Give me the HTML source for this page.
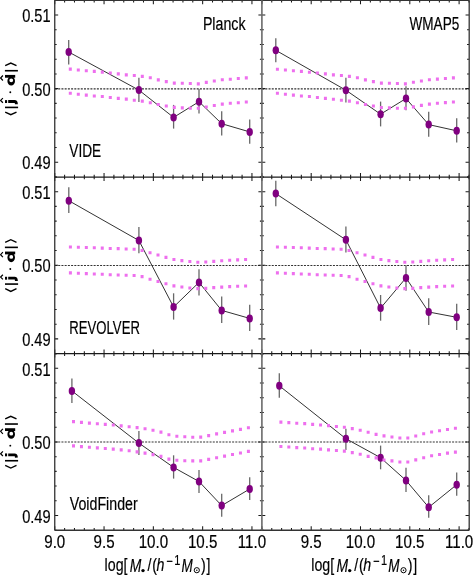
<!DOCTYPE html><html><head><meta charset="utf-8"><style>html,body{margin:0;padding:0;background:#fff;overflow:hidden;}svg{display:block;will-change:transform;}text{font-family:"Liberation Sans",sans-serif;fill:#000;stroke:#000;stroke-width:0.15px;}</style></head><body>
<svg width="473" height="575" viewBox="0 0 473 575">
<rect width="473" height="575" fill="#fff"/>
<line x1="55.0" y1="88.85" x2="261.8" y2="88.85" stroke="#333" stroke-width="1.05" stroke-dasharray="2 1.22"/>
<polyline points="68.7,52.0 138.9,90.1 173.6,117.4 199.0,101.7 221.7,123.7 249.7,131.9" fill="none" stroke="#333" stroke-width="1"/>
<line x1="68.7" y1="40" x2="68.7" y2="64.4" stroke="#686868" stroke-width="1.3"/>
<line x1="138.9" y1="77.7" x2="138.9" y2="102" stroke="#686868" stroke-width="1.3"/>
<line x1="173.6" y1="104.9" x2="173.6" y2="128.6" stroke="#686868" stroke-width="1.3"/>
<line x1="199" y1="89.1" x2="199" y2="113.5" stroke="#686868" stroke-width="1.3"/>
<line x1="221.7" y1="111.3" x2="221.7" y2="135.5" stroke="#686868" stroke-width="1.3"/>
<line x1="249.7" y1="119.5" x2="249.7" y2="143.7" stroke="#686868" stroke-width="1.3"/>
<ellipse cx="68.7" cy="52.0" rx="3.2" ry="4" fill="#800080"/>
<ellipse cx="138.9" cy="90.1" rx="3.2" ry="4" fill="#800080"/>
<ellipse cx="173.6" cy="117.39999999999999" rx="3.2" ry="4" fill="#800080"/>
<ellipse cx="199" cy="101.7" rx="3.2" ry="4" fill="#800080"/>
<ellipse cx="221.7" cy="123.7" rx="3.2" ry="4" fill="#800080"/>
<ellipse cx="249.7" cy="131.9" rx="3.2" ry="4" fill="#800080"/>
<path d="M68.80,67.61h3v3.1h-3zM76.80,68.44h3v3.1h-3zM84.80,69.14h3v3.1h-3zM92.80,69.86h3v3.1h-3zM100.80,70.62h3v3.1h-3zM108.80,71.42h3v3.1h-3zM116.80,72.31h3v3.1h-3zM124.80,73.31h3v3.1h-3zM132.80,74.02h3v3.1h-3zM140.80,74.84h3v3.1h-3zM148.80,76.22h3v3.1h-3zM156.80,78.30h3v3.1h-3zM164.80,80.11h3v3.1h-3zM172.80,81.56h3v3.1h-3zM180.80,81.76h3v3.1h-3zM188.80,81.96h3v3.1h-3zM196.80,82.33h3v3.1h-3zM204.80,80.79h3v3.1h-3zM212.80,79.48h3v3.1h-3zM220.80,78.22h3v3.1h-3zM228.80,77.63h3v3.1h-3zM236.80,76.94h3v3.1h-3zM244.80,76.35h3v3.1h-3z" fill="#ee6fee"/>
<path d="M68.80,91.65h3v3.1h-3zM76.80,92.64h3v3.1h-3zM84.80,93.54h3v3.1h-3zM92.80,94.46h3v3.1h-3zM100.80,94.93h3v3.1h-3zM108.80,95.91h3v3.1h-3zM116.80,96.81h3v3.1h-3zM124.80,97.62h3v3.1h-3zM132.80,98.70h3v3.1h-3zM140.80,99.54h3v3.1h-3zM148.80,101.21h3v3.1h-3zM156.80,102.99h3v3.1h-3zM164.80,104.41h3v3.1h-3zM172.80,105.87h3v3.1h-3zM180.80,106.37h3v3.1h-3zM188.80,106.75h3v3.1h-3zM196.80,106.73h3v3.1h-3zM204.80,105.38h3v3.1h-3zM212.80,103.89h3v3.1h-3zM220.80,102.61h3v3.1h-3zM228.80,101.73h3v3.1h-3zM236.80,101.13h3v3.1h-3zM244.80,100.45h3v3.1h-3z" fill="#ee6fee"/>
<path d="M54.75,0.30v4.0M54.75,176.95v-4.0M64.61,0.30v2.3M64.61,176.95v-2.3M74.47,0.30v2.3M74.47,176.95v-2.3M84.33,0.30v2.3M84.33,176.95v-2.3M94.19,0.30v2.3M94.19,176.95v-2.3M104.05,0.30v4.0M104.05,176.95v-4.0M113.91,0.30v2.3M113.91,176.95v-2.3M123.77,0.30v2.3M123.77,176.95v-2.3M133.63,0.30v2.3M133.63,176.95v-2.3M143.49,0.30v2.3M143.49,176.95v-2.3M153.35,0.30v4.0M153.35,176.95v-4.0M163.21,0.30v2.3M163.21,176.95v-2.3M173.07,0.30v2.3M173.07,176.95v-2.3M182.93,0.30v2.3M182.93,176.95v-2.3M192.79,0.30v2.3M192.79,176.95v-2.3M202.65,0.30v4.0M202.65,176.95v-4.0M212.51,0.30v2.3M212.51,176.95v-2.3M222.37,0.30v2.3M222.37,176.95v-2.3M232.23,0.30v2.3M232.23,176.95v-2.3M242.09,0.30v2.3M242.09,176.95v-2.3M251.95,0.30v4.0M251.95,176.95v-4.0M261.81,0.30v2.3M261.81,176.95v-2.3M54.75,176.95h1.9M261.81,176.95h-1.9M54.75,162.23h3.4M261.81,162.23h-3.4M54.75,147.51h1.9M261.81,147.51h-1.9M54.75,132.79h1.9M261.81,132.79h-1.9M54.75,118.07h1.9M261.81,118.07h-1.9M54.75,103.35h1.9M261.81,103.35h-1.9M54.75,88.62h3.4M261.81,88.62h-3.4M54.75,73.90h1.9M261.81,73.90h-1.9M54.75,59.18h1.9M261.81,59.18h-1.9M54.75,44.46h1.9M261.81,44.46h-1.9M54.75,29.74h1.9M261.81,29.74h-1.9M54.75,15.02h3.4M261.81,15.02h-3.4M54.75,0.30h1.9M261.81,0.30h-1.9" stroke="#1a1a1a" stroke-width="1.05" fill="none"/>
<line x1="262.1" y1="88.85" x2="469.0" y2="88.85" stroke="#333" stroke-width="1.05" stroke-dasharray="2 1.22"/>
<polyline points="275.8,50.3 345.9,90.2 380.6,114.2 406.0,98.5 428.7,124.6 456.7,130.8" fill="none" stroke="#333" stroke-width="1"/>
<line x1="275.8" y1="38.2" x2="275.8" y2="62.2" stroke="#686868" stroke-width="1.3"/>
<line x1="345.9" y1="77.7" x2="345.9" y2="102.4" stroke="#686868" stroke-width="1.3"/>
<line x1="380.6" y1="101.6" x2="380.6" y2="126.4" stroke="#686868" stroke-width="1.3"/>
<line x1="406" y1="86.3" x2="406" y2="110.2" stroke="#686868" stroke-width="1.3"/>
<line x1="428.7" y1="111.8" x2="428.7" y2="136.8" stroke="#686868" stroke-width="1.3"/>
<line x1="456.7" y1="118.2" x2="456.7" y2="142.6" stroke="#686868" stroke-width="1.3"/>
<ellipse cx="275.8" cy="50.3" rx="3.2" ry="4" fill="#800080"/>
<ellipse cx="345.9" cy="90.2" rx="3.2" ry="4" fill="#800080"/>
<ellipse cx="380.6" cy="114.2" rx="3.2" ry="4" fill="#800080"/>
<ellipse cx="406" cy="98.5" rx="3.2" ry="4" fill="#800080"/>
<ellipse cx="428.7" cy="124.6" rx="3.2" ry="4" fill="#800080"/>
<ellipse cx="456.7" cy="130.8" rx="3.2" ry="4" fill="#800080"/>
<path d="M275.90,67.63h3v3.1h-3zM283.90,68.45h3v3.1h-3zM291.90,69.15h3v3.1h-3zM299.90,69.87h3v3.1h-3zM307.90,70.63h3v3.1h-3zM315.90,71.43h3v3.1h-3zM323.90,72.32h3v3.1h-3zM331.90,73.32h3v3.1h-3zM339.90,74.02h3v3.1h-3zM347.90,74.85h3v3.1h-3zM355.90,76.23h3v3.1h-3zM363.90,78.32h3v3.1h-3zM371.90,80.12h3v3.1h-3zM379.90,81.56h3v3.1h-3zM387.90,81.76h3v3.1h-3zM395.90,81.97h3v3.1h-3zM403.90,82.31h3v3.1h-3zM411.90,80.77h3v3.1h-3zM419.90,79.47h3v3.1h-3zM427.90,78.21h3v3.1h-3zM435.90,77.62h3v3.1h-3zM443.90,76.93h3v3.1h-3zM451.90,76.34h3v3.1h-3z" fill="#ee6fee"/>
<path d="M275.90,91.66h3v3.1h-3zM283.90,92.65h3v3.1h-3zM291.90,93.55h3v3.1h-3zM299.90,94.46h3v3.1h-3zM307.90,94.94h3v3.1h-3zM315.90,95.92h3v3.1h-3zM323.90,96.82h3v3.1h-3zM331.90,97.63h3v3.1h-3zM339.90,98.71h3v3.1h-3zM347.90,99.55h3v3.1h-3zM355.90,101.23h3v3.1h-3zM363.90,103.00h3v3.1h-3zM371.90,104.42h3v3.1h-3zM379.90,105.88h3v3.1h-3zM387.90,106.37h3v3.1h-3zM395.90,106.75h3v3.1h-3zM403.90,106.72h3v3.1h-3zM411.90,105.36h3v3.1h-3zM419.90,103.87h3v3.1h-3zM427.90,102.60h3v3.1h-3zM435.90,101.73h3v3.1h-3zM443.90,101.12h3v3.1h-3zM451.90,100.44h3v3.1h-3z" fill="#ee6fee"/>
<path d="M261.90,0.30v4.0M261.90,176.95v-4.0M271.76,0.30v2.3M271.76,176.95v-2.3M281.62,0.30v2.3M281.62,176.95v-2.3M291.48,0.30v2.3M291.48,176.95v-2.3M301.34,0.30v2.3M301.34,176.95v-2.3M311.20,0.30v4.0M311.20,176.95v-4.0M321.06,0.30v2.3M321.06,176.95v-2.3M330.92,0.30v2.3M330.92,176.95v-2.3M340.78,0.30v2.3M340.78,176.95v-2.3M350.64,0.30v2.3M350.64,176.95v-2.3M360.50,0.30v4.0M360.50,176.95v-4.0M370.36,0.30v2.3M370.36,176.95v-2.3M380.22,0.30v2.3M380.22,176.95v-2.3M390.08,0.30v2.3M390.08,176.95v-2.3M399.94,0.30v2.3M399.94,176.95v-2.3M409.80,0.30v4.0M409.80,176.95v-4.0M419.66,0.30v2.3M419.66,176.95v-2.3M429.52,0.30v2.3M429.52,176.95v-2.3M439.38,0.30v2.3M439.38,176.95v-2.3M449.24,0.30v2.3M449.24,176.95v-2.3M459.10,0.30v4.0M459.10,176.95v-4.0M468.96,0.30v2.3M468.96,176.95v-2.3M261.90,176.95h1.9M468.96,176.95h-1.9M261.90,162.23h3.4M468.96,162.23h-3.4M261.90,147.51h1.9M468.96,147.51h-1.9M261.90,132.79h1.9M468.96,132.79h-1.9M261.90,118.07h1.9M468.96,118.07h-1.9M261.90,103.35h1.9M468.96,103.35h-1.9M261.90,88.62h3.4M468.96,88.62h-3.4M261.90,73.90h1.9M468.96,73.90h-1.9M261.90,59.18h1.9M468.96,59.18h-1.9M261.90,44.46h1.9M468.96,44.46h-1.9M261.90,29.74h1.9M468.96,29.74h-1.9M261.90,15.02h3.4M468.96,15.02h-3.4M261.90,0.30h1.9M468.96,0.30h-1.9" stroke="#1a1a1a" stroke-width="1.05" fill="none"/>
<line x1="55.0" y1="265.50" x2="261.8" y2="265.50" stroke="#333" stroke-width="1.05" stroke-dasharray="2 1.22"/>
<polyline points="68.8,200.7 138.9,240.5 173.6,307.0 199.0,282.4 221.7,310.4 249.7,318.4" fill="none" stroke="#333" stroke-width="1"/>
<line x1="68.8" y1="187.3" x2="68.8" y2="212.9" stroke="#686868" stroke-width="1.3"/>
<line x1="138.9" y1="227.1" x2="138.9" y2="253.3" stroke="#686868" stroke-width="1.3"/>
<line x1="173.6" y1="293.3" x2="173.6" y2="319.6" stroke="#686868" stroke-width="1.3"/>
<line x1="199" y1="269.2" x2="199" y2="295.5" stroke="#686868" stroke-width="1.3"/>
<line x1="221.7" y1="296.6" x2="221.7" y2="323.1" stroke="#686868" stroke-width="1.3"/>
<line x1="249.7" y1="304.8" x2="249.7" y2="331.1" stroke="#686868" stroke-width="1.3"/>
<ellipse cx="68.8" cy="200.70000000000002" rx="3.2" ry="4" fill="#800080"/>
<ellipse cx="138.9" cy="240.5" rx="3.2" ry="4" fill="#800080"/>
<ellipse cx="173.6" cy="307.0" rx="3.2" ry="4" fill="#800080"/>
<ellipse cx="199" cy="282.40000000000003" rx="3.2" ry="4" fill="#800080"/>
<ellipse cx="221.7" cy="310.40000000000003" rx="3.2" ry="4" fill="#800080"/>
<ellipse cx="249.7" cy="318.40000000000003" rx="3.2" ry="4" fill="#800080"/>
<path d="M68.90,245.50h3v3.1h-3zM76.86,245.75h3v3.1h-3zM84.83,245.96h3v3.1h-3zM92.79,246.15h3v3.1h-3zM100.75,246.53h3v3.1h-3zM108.72,246.93h3v3.1h-3zM116.68,247.04h3v3.1h-3zM124.65,247.43h3v3.1h-3zM132.61,247.73h3v3.1h-3zM140.57,248.90h3v3.1h-3zM148.54,251.16h3v3.1h-3zM156.50,253.38h3v3.1h-3zM164.46,255.83h3v3.1h-3zM172.43,258.02h3v3.1h-3zM180.39,259.04h3v3.1h-3zM188.35,259.93h3v3.1h-3zM196.32,260.72h3v3.1h-3zM204.28,260.41h3v3.1h-3zM212.25,259.82h3v3.1h-3zM220.21,259.24h3v3.1h-3zM228.17,258.74h3v3.1h-3zM236.14,258.33h3v3.1h-3zM244.10,257.95h3v3.1h-3z" fill="#ee6fee"/>
<path d="M68.90,271.34h3v3.1h-3zM76.86,271.76h3v3.1h-3zM84.83,272.07h3v3.1h-3zM92.79,272.46h3v3.1h-3zM100.75,272.74h3v3.1h-3zM108.72,273.13h3v3.1h-3zM116.68,273.43h3v3.1h-3zM124.65,273.64h3v3.1h-3zM132.61,273.93h3v3.1h-3zM140.57,275.10h3v3.1h-3zM148.54,277.66h3v3.1h-3zM156.50,279.88h3v3.1h-3zM164.46,282.13h3v3.1h-3zM172.43,284.33h3v3.1h-3zM180.39,285.46h3v3.1h-3zM188.35,286.51h3v3.1h-3zM196.32,287.03h3v3.1h-3zM204.28,286.81h3v3.1h-3zM212.25,286.12h3v3.1h-3zM220.21,285.54h3v3.1h-3zM228.17,285.04h3v3.1h-3zM236.14,284.64h3v3.1h-3zM244.10,284.45h3v3.1h-3z" fill="#ee6fee"/>
<path d="M54.75,176.95v4.0M54.75,353.60v-4.0M64.61,176.95v2.3M64.61,353.60v-2.3M74.47,176.95v2.3M74.47,353.60v-2.3M84.33,176.95v2.3M84.33,353.60v-2.3M94.19,176.95v2.3M94.19,353.60v-2.3M104.05,176.95v4.0M104.05,353.60v-4.0M113.91,176.95v2.3M113.91,353.60v-2.3M123.77,176.95v2.3M123.77,353.60v-2.3M133.63,176.95v2.3M133.63,353.60v-2.3M143.49,176.95v2.3M143.49,353.60v-2.3M153.35,176.95v4.0M153.35,353.60v-4.0M163.21,176.95v2.3M163.21,353.60v-2.3M173.07,176.95v2.3M173.07,353.60v-2.3M182.93,176.95v2.3M182.93,353.60v-2.3M192.79,176.95v2.3M192.79,353.60v-2.3M202.65,176.95v4.0M202.65,353.60v-4.0M212.51,176.95v2.3M212.51,353.60v-2.3M222.37,176.95v2.3M222.37,353.60v-2.3M232.23,176.95v2.3M232.23,353.60v-2.3M242.09,176.95v2.3M242.09,353.60v-2.3M251.95,176.95v4.0M251.95,353.60v-4.0M261.81,176.95v2.3M261.81,353.60v-2.3M54.75,353.60h1.9M261.81,353.60h-1.9M54.75,338.88h3.4M261.81,338.88h-3.4M54.75,324.16h1.9M261.81,324.16h-1.9M54.75,309.44h1.9M261.81,309.44h-1.9M54.75,294.72h1.9M261.81,294.72h-1.9M54.75,280.00h1.9M261.81,280.00h-1.9M54.75,265.27h3.4M261.81,265.27h-3.4M54.75,250.55h1.9M261.81,250.55h-1.9M54.75,235.83h1.9M261.81,235.83h-1.9M54.75,221.11h1.9M261.81,221.11h-1.9M54.75,206.39h1.9M261.81,206.39h-1.9M54.75,191.67h3.4M261.81,191.67h-3.4M54.75,176.95h1.9M261.81,176.95h-1.9" stroke="#1a1a1a" stroke-width="1.05" fill="none"/>
<line x1="262.1" y1="265.50" x2="469.0" y2="265.50" stroke="#333" stroke-width="1.05" stroke-dasharray="2 1.22"/>
<polyline points="275.8,193.6 345.9,239.8 380.6,308.1 406.0,277.9 428.7,312.0 456.7,317.3" fill="none" stroke="#333" stroke-width="1"/>
<line x1="275.8" y1="180.7" x2="275.8" y2="206.2" stroke="#686868" stroke-width="1.3"/>
<line x1="345.9" y1="226.6" x2="345.9" y2="252.4" stroke="#686868" stroke-width="1.3"/>
<line x1="380.6" y1="295" x2="380.6" y2="320.7" stroke="#686868" stroke-width="1.3"/>
<line x1="406" y1="264.9" x2="406" y2="290.7" stroke="#686868" stroke-width="1.3"/>
<line x1="428.7" y1="298.3" x2="428.7" y2="325" stroke="#686868" stroke-width="1.3"/>
<line x1="456.7" y1="303.7" x2="456.7" y2="330" stroke="#686868" stroke-width="1.3"/>
<ellipse cx="275.8" cy="193.60000000000002" rx="3.2" ry="4" fill="#800080"/>
<ellipse cx="345.9" cy="239.8" rx="3.2" ry="4" fill="#800080"/>
<ellipse cx="380.6" cy="308.1" rx="3.2" ry="4" fill="#800080"/>
<ellipse cx="406" cy="277.90000000000003" rx="3.2" ry="4" fill="#800080"/>
<ellipse cx="428.7" cy="312.0" rx="3.2" ry="4" fill="#800080"/>
<ellipse cx="456.7" cy="317.3" rx="3.2" ry="4" fill="#800080"/>
<path d="M275.90,245.50h3v3.1h-3zM283.86,245.75h3v3.1h-3zM291.83,245.96h3v3.1h-3zM299.79,246.15h3v3.1h-3zM307.75,246.53h3v3.1h-3zM315.72,246.93h3v3.1h-3zM323.68,247.04h3v3.1h-3zM331.65,247.43h3v3.1h-3zM339.61,247.73h3v3.1h-3zM347.57,248.90h3v3.1h-3zM355.54,251.16h3v3.1h-3zM363.50,253.38h3v3.1h-3zM371.46,255.83h3v3.1h-3zM379.43,258.02h3v3.1h-3zM387.39,259.04h3v3.1h-3zM395.35,259.93h3v3.1h-3zM403.32,260.72h3v3.1h-3zM411.28,260.41h3v3.1h-3zM419.25,259.82h3v3.1h-3zM427.21,259.24h3v3.1h-3zM435.17,258.74h3v3.1h-3zM443.14,258.33h3v3.1h-3zM451.10,257.95h3v3.1h-3z" fill="#ee6fee"/>
<path d="M275.90,271.34h3v3.1h-3zM283.86,271.76h3v3.1h-3zM291.83,272.07h3v3.1h-3zM299.79,272.46h3v3.1h-3zM307.75,272.74h3v3.1h-3zM315.72,273.13h3v3.1h-3zM323.68,273.43h3v3.1h-3zM331.65,273.64h3v3.1h-3zM339.61,273.93h3v3.1h-3zM347.57,275.10h3v3.1h-3zM355.54,277.66h3v3.1h-3zM363.50,279.88h3v3.1h-3zM371.46,282.13h3v3.1h-3zM379.43,284.33h3v3.1h-3zM387.39,285.46h3v3.1h-3zM395.35,286.51h3v3.1h-3zM403.32,287.03h3v3.1h-3zM411.28,286.81h3v3.1h-3zM419.25,286.12h3v3.1h-3zM427.21,285.54h3v3.1h-3zM435.17,285.04h3v3.1h-3zM443.14,284.64h3v3.1h-3zM451.10,284.45h3v3.1h-3z" fill="#ee6fee"/>
<path d="M261.90,176.95v4.0M261.90,353.60v-4.0M271.76,176.95v2.3M271.76,353.60v-2.3M281.62,176.95v2.3M281.62,353.60v-2.3M291.48,176.95v2.3M291.48,353.60v-2.3M301.34,176.95v2.3M301.34,353.60v-2.3M311.20,176.95v4.0M311.20,353.60v-4.0M321.06,176.95v2.3M321.06,353.60v-2.3M330.92,176.95v2.3M330.92,353.60v-2.3M340.78,176.95v2.3M340.78,353.60v-2.3M350.64,176.95v2.3M350.64,353.60v-2.3M360.50,176.95v4.0M360.50,353.60v-4.0M370.36,176.95v2.3M370.36,353.60v-2.3M380.22,176.95v2.3M380.22,353.60v-2.3M390.08,176.95v2.3M390.08,353.60v-2.3M399.94,176.95v2.3M399.94,353.60v-2.3M409.80,176.95v4.0M409.80,353.60v-4.0M419.66,176.95v2.3M419.66,353.60v-2.3M429.52,176.95v2.3M429.52,353.60v-2.3M439.38,176.95v2.3M439.38,353.60v-2.3M449.24,176.95v2.3M449.24,353.60v-2.3M459.10,176.95v4.0M459.10,353.60v-4.0M468.96,176.95v2.3M468.96,353.60v-2.3M261.90,353.60h1.9M468.96,353.60h-1.9M261.90,338.88h3.4M468.96,338.88h-3.4M261.90,324.16h1.9M468.96,324.16h-1.9M261.90,309.44h1.9M468.96,309.44h-1.9M261.90,294.72h1.9M468.96,294.72h-1.9M261.90,280.00h1.9M468.96,280.00h-1.9M261.90,265.27h3.4M468.96,265.27h-3.4M261.90,250.55h1.9M468.96,250.55h-1.9M261.90,235.83h1.9M468.96,235.83h-1.9M261.90,221.11h1.9M468.96,221.11h-1.9M261.90,206.39h1.9M468.96,206.39h-1.9M261.90,191.67h3.4M468.96,191.67h-3.4M261.90,176.95h1.9M468.96,176.95h-1.9" stroke="#1a1a1a" stroke-width="1.05" fill="none"/>
<line x1="55.0" y1="442.00" x2="261.8" y2="442.00" stroke="#333" stroke-width="1.05" stroke-dasharray="2 1.22"/>
<polyline points="71.9,390.9 138.9,443.1 173.6,467.4 199.0,481.5 221.7,505.6 249.7,489.0" fill="none" stroke="#333" stroke-width="1"/>
<line x1="71.9" y1="378.4" x2="71.9" y2="402.9" stroke="#686868" stroke-width="1.3"/>
<line x1="138.9" y1="431" x2="138.9" y2="455" stroke="#686868" stroke-width="1.3"/>
<line x1="173.6" y1="455.3" x2="173.6" y2="478.6" stroke="#686868" stroke-width="1.3"/>
<line x1="199" y1="470" x2="199" y2="493" stroke="#686868" stroke-width="1.3"/>
<line x1="221.7" y1="493.7" x2="221.7" y2="516.7" stroke="#686868" stroke-width="1.3"/>
<line x1="249.7" y1="477.3" x2="249.7" y2="500.1" stroke="#686868" stroke-width="1.3"/>
<ellipse cx="71.9" cy="390.90000000000003" rx="3.2" ry="4" fill="#800080"/>
<ellipse cx="138.9" cy="443.1" rx="3.2" ry="4" fill="#800080"/>
<ellipse cx="173.6" cy="467.40000000000003" rx="3.2" ry="4" fill="#800080"/>
<ellipse cx="199" cy="481.5" rx="3.2" ry="4" fill="#800080"/>
<ellipse cx="221.7" cy="505.6" rx="3.2" ry="4" fill="#800080"/>
<ellipse cx="249.7" cy="489.0" rx="3.2" ry="4" fill="#800080"/>
<path d="M72.00,420.10h3v3.1h-3zM79.95,420.87h3v3.1h-3zM87.90,421.55h3v3.1h-3zM95.85,422.13h3v3.1h-3zM103.80,422.82h3v3.1h-3zM111.75,423.50h3v3.1h-3zM119.70,424.31h3v3.1h-3zM127.65,425.18h3v3.1h-3zM135.60,426.09h3v3.1h-3zM143.55,427.17h3v3.1h-3zM151.50,428.69h3v3.1h-3zM159.45,430.61h3v3.1h-3zM167.40,433.22h3v3.1h-3zM175.35,434.75h3v3.1h-3zM183.30,435.15h3v3.1h-3zM191.25,435.65h3v3.1h-3zM199.20,435.61h3v3.1h-3zM207.15,434.12h3v3.1h-3zM215.10,432.33h3v3.1h-3zM223.05,430.80h3v3.1h-3zM231.00,429.29h3v3.1h-3zM238.95,427.80h3v3.1h-3zM246.90,426.15h3v3.1h-3z" fill="#ee6fee"/>
<path d="M72.00,444.30h3v3.1h-3zM79.95,445.07h3v3.1h-3zM87.90,445.65h3v3.1h-3zM95.85,446.33h3v3.1h-3zM103.80,447.02h3v3.1h-3zM111.75,447.61h3v3.1h-3zM119.70,448.31h3v3.1h-3zM127.65,449.18h3v3.1h-3zM135.60,450.28h3v3.1h-3zM143.55,451.56h3v3.1h-3zM151.50,453.09h3v3.1h-3zM159.45,454.82h3v3.1h-3zM167.40,457.61h3v3.1h-3zM175.35,458.65h3v3.1h-3zM183.30,459.15h3v3.1h-3zM191.25,459.35h3v3.1h-3zM199.20,459.31h3v3.1h-3zM207.15,457.82h3v3.1h-3zM215.10,456.13h3v3.1h-3zM223.05,454.60h3v3.1h-3zM231.00,452.99h3v3.1h-3zM238.95,451.50h3v3.1h-3zM246.90,449.85h3v3.1h-3z" fill="#ee6fee"/>
<path d="M54.75,353.60v4.0M54.75,530.25v-4.0M64.61,353.60v2.3M64.61,530.25v-2.3M74.47,353.60v2.3M74.47,530.25v-2.3M84.33,353.60v2.3M84.33,530.25v-2.3M94.19,353.60v2.3M94.19,530.25v-2.3M104.05,353.60v4.0M104.05,530.25v-4.0M113.91,353.60v2.3M113.91,530.25v-2.3M123.77,353.60v2.3M123.77,530.25v-2.3M133.63,353.60v2.3M133.63,530.25v-2.3M143.49,353.60v2.3M143.49,530.25v-2.3M153.35,353.60v4.0M153.35,530.25v-4.0M163.21,353.60v2.3M163.21,530.25v-2.3M173.07,353.60v2.3M173.07,530.25v-2.3M182.93,353.60v2.3M182.93,530.25v-2.3M192.79,353.60v2.3M192.79,530.25v-2.3M202.65,353.60v4.0M202.65,530.25v-4.0M212.51,353.60v2.3M212.51,530.25v-2.3M222.37,353.60v2.3M222.37,530.25v-2.3M232.23,353.60v2.3M232.23,530.25v-2.3M242.09,353.60v2.3M242.09,530.25v-2.3M251.95,353.60v4.0M251.95,530.25v-4.0M261.81,353.60v2.3M261.81,530.25v-2.3M54.75,530.25h1.9M261.81,530.25h-1.9M54.75,515.53h3.4M261.81,515.53h-3.4M54.75,500.81h1.9M261.81,500.81h-1.9M54.75,486.09h1.9M261.81,486.09h-1.9M54.75,471.37h1.9M261.81,471.37h-1.9M54.75,456.65h1.9M261.81,456.65h-1.9M54.75,441.93h3.4M261.81,441.93h-3.4M54.75,427.20h1.9M261.81,427.20h-1.9M54.75,412.48h1.9M261.81,412.48h-1.9M54.75,397.76h1.9M261.81,397.76h-1.9M54.75,383.04h1.9M261.81,383.04h-1.9M54.75,368.32h3.4M261.81,368.32h-3.4M54.75,353.60h1.9M261.81,353.60h-1.9" stroke="#1a1a1a" stroke-width="1.05" fill="none"/>
<line x1="262.1" y1="442.00" x2="469.0" y2="442.00" stroke="#333" stroke-width="1.05" stroke-dasharray="2 1.22"/>
<polyline points="279.3,385.8 345.9,438.7 380.6,457.7 406.0,480.4 428.7,507.3 456.7,484.7" fill="none" stroke="#333" stroke-width="1"/>
<line x1="279.3" y1="373.3" x2="279.3" y2="397.7" stroke="#686868" stroke-width="1.3"/>
<line x1="345.9" y1="428.8" x2="345.9" y2="449.9" stroke="#686868" stroke-width="1.3"/>
<line x1="380.6" y1="445.6" x2="380.6" y2="469.3" stroke="#686868" stroke-width="1.3"/>
<line x1="406" y1="467.8" x2="406" y2="491.9" stroke="#686868" stroke-width="1.3"/>
<line x1="428.7" y1="495.2" x2="428.7" y2="517.8" stroke="#686868" stroke-width="1.3"/>
<line x1="456.7" y1="472.5" x2="456.7" y2="495.8" stroke="#686868" stroke-width="1.3"/>
<ellipse cx="279.3" cy="385.8" rx="3.2" ry="4" fill="#800080"/>
<ellipse cx="345.9" cy="438.7" rx="3.2" ry="4" fill="#800080"/>
<ellipse cx="380.6" cy="457.7" rx="3.2" ry="4" fill="#800080"/>
<ellipse cx="406" cy="480.40000000000003" rx="3.2" ry="4" fill="#800080"/>
<ellipse cx="428.7" cy="507.3" rx="3.2" ry="4" fill="#800080"/>
<ellipse cx="456.7" cy="484.7" rx="3.2" ry="4" fill="#800080"/>
<path d="M279.40,420.55h3v3.1h-3zM287.33,421.03h3v3.1h-3zM295.26,421.72h3v3.1h-3zM303.20,422.12h3v3.1h-3zM311.13,422.81h3v3.1h-3zM319.06,423.49h3v3.1h-3zM326.99,424.09h3v3.1h-3zM334.92,424.93h3v3.1h-3zM342.85,425.67h3v3.1h-3zM350.79,427.11h3v3.1h-3zM358.72,428.66h3v3.1h-3zM366.65,430.66h3v3.1h-3zM374.58,432.84h3v3.1h-3zM382.51,434.30h3v3.1h-3zM390.45,435.39h3v3.1h-3zM398.38,436.38h3v3.1h-3zM406.31,436.45h3v3.1h-3zM414.24,434.47h3v3.1h-3zM422.17,432.27h3v3.1h-3zM430.10,430.47h3v3.1h-3zM438.04,429.21h3v3.1h-3zM445.97,427.92h3v3.1h-3zM453.90,426.75h3v3.1h-3z" fill="#ee6fee"/>
<path d="M279.40,444.95h3v3.1h-3zM287.33,445.43h3v3.1h-3zM295.26,446.12h3v3.1h-3zM303.20,446.52h3v3.1h-3zM311.13,447.21h3v3.1h-3zM319.06,447.61h3v3.1h-3zM326.99,448.28h3v3.1h-3zM334.92,448.96h3v3.1h-3zM342.85,449.58h3v3.1h-3zM350.79,451.10h3v3.1h-3zM358.72,452.66h3v3.1h-3zM366.65,454.86h3v3.1h-3zM374.58,456.35h3v3.1h-3zM382.51,458.38h3v3.1h-3zM390.45,459.30h3v3.1h-3zM398.38,460.38h3v3.1h-3zM406.31,460.45h3v3.1h-3zM414.24,458.37h3v3.1h-3zM422.17,456.26h3v3.1h-3zM430.10,454.18h3v3.1h-3zM438.04,452.91h3v3.1h-3zM445.97,451.62h3v3.1h-3zM453.90,450.55h3v3.1h-3z" fill="#ee6fee"/>
<path d="M261.90,353.60v4.0M261.90,530.25v-4.0M271.76,353.60v2.3M271.76,530.25v-2.3M281.62,353.60v2.3M281.62,530.25v-2.3M291.48,353.60v2.3M291.48,530.25v-2.3M301.34,353.60v2.3M301.34,530.25v-2.3M311.20,353.60v4.0M311.20,530.25v-4.0M321.06,353.60v2.3M321.06,530.25v-2.3M330.92,353.60v2.3M330.92,530.25v-2.3M340.78,353.60v2.3M340.78,530.25v-2.3M350.64,353.60v2.3M350.64,530.25v-2.3M360.50,353.60v4.0M360.50,530.25v-4.0M370.36,353.60v2.3M370.36,530.25v-2.3M380.22,353.60v2.3M380.22,530.25v-2.3M390.08,353.60v2.3M390.08,530.25v-2.3M399.94,353.60v2.3M399.94,530.25v-2.3M409.80,353.60v4.0M409.80,530.25v-4.0M419.66,353.60v2.3M419.66,530.25v-2.3M429.52,353.60v2.3M429.52,530.25v-2.3M439.38,353.60v2.3M439.38,530.25v-2.3M449.24,353.60v2.3M449.24,530.25v-2.3M459.10,353.60v4.0M459.10,530.25v-4.0M468.96,353.60v2.3M468.96,530.25v-2.3M261.90,530.25h1.9M468.96,530.25h-1.9M261.90,515.53h3.4M468.96,515.53h-3.4M261.90,500.81h1.9M468.96,500.81h-1.9M261.90,486.09h1.9M468.96,486.09h-1.9M261.90,471.37h1.9M468.96,471.37h-1.9M261.90,456.65h1.9M468.96,456.65h-1.9M261.90,441.93h3.4M468.96,441.93h-3.4M261.90,427.20h1.9M468.96,427.20h-1.9M261.90,412.48h1.9M468.96,412.48h-1.9M261.90,397.76h1.9M468.96,397.76h-1.9M261.90,383.04h1.9M468.96,383.04h-1.9M261.90,368.32h3.4M468.96,368.32h-3.4M261.90,353.60h1.9M468.96,353.60h-1.9" stroke="#1a1a1a" stroke-width="1.05" fill="none"/>
<path d="M54.75,0.3H469.2M54.75,530.25H469.2" stroke="#333" stroke-width="1.3" fill="none"/>
<path d="M54.75,177.05H469.2" stroke="#1a1a1a" stroke-width="1.3" fill="none"/>
<path d="M54.75,353.55H469.2" stroke="#1a1a1a" stroke-width="1.3" fill="none"/>
<path d="M54.75,0.3V530.25M469.20,0.3V530.25" stroke="#333" stroke-width="1.3" fill="none"/>
<path d="M261.9,0.3V530.25" stroke="#6a6a6a" stroke-width="1.6" fill="none"/>
<text transform="translate(50.6,22.22083333333327) scale(1.03,1.25)" font-size="14.2" text-anchor="end" >0.51</text>
<text transform="translate(50.6,95.825) scale(1.03,1.25)" font-size="14.2" text-anchor="end" >0.50</text>
<text transform="translate(50.6,169.42916666666673) scale(1.03,1.25)" font-size="14.2" text-anchor="end" >0.49</text>
<text transform="translate(50.6,198.87083333333322) scale(1.03,1.25)" font-size="14.2" text-anchor="end" >0.51</text>
<text transform="translate(50.6,272.47499999999997) scale(1.03,1.25)" font-size="14.2" text-anchor="end" >0.50</text>
<text transform="translate(50.6,346.0791666666667) scale(1.03,1.25)" font-size="14.2" text-anchor="end" >0.49</text>
<text transform="translate(50.6,375.52083333333326) scale(1.03,1.25)" font-size="14.2" text-anchor="end" >0.51</text>
<text transform="translate(50.6,449.125) scale(1.03,1.25)" font-size="14.2" text-anchor="end" >0.50</text>
<text transform="translate(50.6,522.7291666666667) scale(1.03,1.25)" font-size="14.2" text-anchor="end" >0.49</text>
<text transform="translate(54.75,548.2) scale(1.065,1.25)" font-size="14.2" text-anchor="middle" >9.0</text>
<text transform="translate(104.05,548.2) scale(1.065,1.25)" font-size="14.2" text-anchor="middle" >9.5</text>
<text transform="translate(153.35,548.2) scale(1.065,1.25)" font-size="14.2" text-anchor="middle" >10.0</text>
<text transform="translate(202.64999999999998,548.2) scale(1.065,1.25)" font-size="14.2" text-anchor="middle" >10.5</text>
<text transform="translate(251.95,548.2) scale(1.065,1.25)" font-size="14.2" text-anchor="middle" >11.0</text>
<text transform="translate(311.2,548.2) scale(1.065,1.25)" font-size="14.2" text-anchor="middle" >9.5</text>
<text transform="translate(360.5,548.2) scale(1.065,1.25)" font-size="14.2" text-anchor="middle" >10.0</text>
<text transform="translate(409.79999999999995,548.2) scale(1.065,1.25)" font-size="14.2" text-anchor="middle" >10.5</text>
<text transform="translate(459.09999999999997,548.2) scale(1.065,1.25)" font-size="14.2" text-anchor="middle" >11.0</text>
<text transform="translate(245.5,29.7) scale(1.0,1.25)" font-size="14.2" text-anchor="end" >Planck</text>
<text transform="translate(459.3,29.7) scale(0.957,1.25)" font-size="14.2" text-anchor="end" >WMAP5</text>
<text transform="translate(69.3,157) scale(0.96,1.25)" font-size="14.2" text-anchor="start" >VIDE</text>
<text transform="translate(69.3,334.1) scale(0.926,1.25)" font-size="14.2" text-anchor="start" >REVOLVER</text>
<text transform="translate(69.8,510.2) scale(1.0,1.25)" font-size="14.2" text-anchor="start" >VoidFinder</text>
<g transform="translate(0,0)"><text transform="translate(104.6,571.3) scale(1.0,1.25)" font-size="14.2" text-anchor="start" >log[</text><text transform="translate(129.7,571.5999999999999) scale(0.98,1.25)" font-size="14.2" text-anchor="start" font-style="italic">M</text><circle cx="143.0" cy="570.6" r="1.7" fill="#000"/><text transform="translate(147.6,571.3) scale(1.0,1.25)" font-size="14.2" text-anchor="start" >/</text><text transform="translate(152.3,571.3) scale(1.0,1.25)" font-size="14.2" text-anchor="start" >(</text><text transform="translate(156.6,571.3) scale(1.0,1.25)" font-size="14.2" text-anchor="start" font-style="italic">h</text><text transform="translate(166.3,565.5) scale(1.0,1.25)" font-size="11" text-anchor="start" >−</text><text transform="translate(174.3,565.3) scale(1.0,1.25)" font-size="11" text-anchor="start" >1</text><text transform="translate(181.5,571.5999999999999) scale(0.95,1.25)" font-size="14.2" text-anchor="start" font-style="italic">M</text><circle cx="196.8" cy="570.2" r="2.6" fill="none" stroke="#000" stroke-width="1.0"/><circle cx="196.8" cy="570.2" r="0.75" fill="#000"/><text transform="translate(201.0,571.3) scale(1.0,1.25)" font-size="14.2" text-anchor="start" >)</text><text transform="translate(206.5,571.3) scale(1.0,1.25)" font-size="14.2" text-anchor="start" >]</text></g>
<g transform="translate(206.7,0)"><text transform="translate(104.6,571.3) scale(1.0,1.25)" font-size="14.2" text-anchor="start" >log[</text><text transform="translate(129.7,571.5999999999999) scale(0.98,1.25)" font-size="14.2" text-anchor="start" font-style="italic">M</text><circle cx="143.0" cy="570.6" r="1.7" fill="#000"/><text transform="translate(147.6,571.3) scale(1.0,1.25)" font-size="14.2" text-anchor="start" >/</text><text transform="translate(152.3,571.3) scale(1.0,1.25)" font-size="14.2" text-anchor="start" >(</text><text transform="translate(156.6,571.3) scale(1.0,1.25)" font-size="14.2" text-anchor="start" font-style="italic">h</text><text transform="translate(166.3,565.5) scale(1.0,1.25)" font-size="11" text-anchor="start" >−</text><text transform="translate(174.3,565.3) scale(1.0,1.25)" font-size="11" text-anchor="start" >1</text><text transform="translate(181.5,571.5999999999999) scale(0.95,1.25)" font-size="14.2" text-anchor="start" font-style="italic">M</text><circle cx="196.8" cy="570.2" r="2.6" fill="none" stroke="#000" stroke-width="1.0"/><circle cx="196.8" cy="570.2" r="0.75" fill="#000"/><text transform="translate(201.0,571.3) scale(1.0,1.25)" font-size="14.2" text-anchor="start" >)</text><text transform="translate(206.5,571.3) scale(1.0,1.25)" font-size="14.2" text-anchor="start" >]</text></g>
<g transform="translate(0,-0.08)"><polyline points="5.2,65.7 10.8,63.1 16.5,65.7" fill="none" stroke="#000" stroke-width="1.4"/><rect x="4.9" y="70" width="13" height="1.6" fill="#000"/><rect x="5" y="75" width="10.2" height="2.8" fill="#000"/><path fill-rule="evenodd" fill="#000" d="M7.4,81a3.8,4.6 0 1,0 7.6,0a3.8,4.6 0 1,0 -7.6,0ZM9.35,80.4a1.9,1.9 0 1,0 3.8,0a1.9,1.9 0 1,0 -3.8,0Z"/><polyline points="2.9,75.6 0.6,78.1 2.9,80.6" fill="none" stroke="#000" stroke-width="1.2"/><circle cx="10.3" cy="92.4" r="0.95" fill="#000"/><polyline points="2.9,98.2 0.6,100.5 2.9,102.8" fill="none" stroke="#000" stroke-width="1.2"/><rect x="5" y="100.2" width="2.1" height="2.9" fill="#000"/><path d="M8.2,101.6H14.6Q16.3,101.6 16.4,104.4" fill="none" stroke="#000" stroke-width="2.9"/><rect x="5" y="106.7" width="13.1" height="1.6" fill="#000"/><polyline points="5.2,112.1 10.8,114.8 16.5,112.1" fill="none" stroke="#000" stroke-width="1.4"/></g>
<g transform="translate(0,176.57)"><polyline points="5.2,65.7 10.8,63.1 16.5,65.7" fill="none" stroke="#000" stroke-width="1.4"/><rect x="4.9" y="70" width="13" height="1.6" fill="#000"/><rect x="5" y="75" width="10.2" height="2.8" fill="#000"/><path fill-rule="evenodd" fill="#000" d="M7.4,81a3.8,4.6 0 1,0 7.6,0a3.8,4.6 0 1,0 -7.6,0ZM9.35,80.4a1.9,1.9 0 1,0 3.8,0a1.9,1.9 0 1,0 -3.8,0Z"/><polyline points="2.9,75.6 0.6,78.1 2.9,80.6" fill="none" stroke="#000" stroke-width="1.2"/><circle cx="10.3" cy="92.4" r="0.95" fill="#000"/><polyline points="2.9,98.2 0.6,100.5 2.9,102.8" fill="none" stroke="#000" stroke-width="1.2"/><rect x="5" y="100.2" width="2.1" height="2.9" fill="#000"/><path d="M8.2,101.6H14.6Q16.3,101.6 16.4,104.4" fill="none" stroke="#000" stroke-width="2.9"/><rect x="5" y="106.7" width="13.1" height="1.6" fill="#000"/><polyline points="5.2,112.1 10.8,114.8 16.5,112.1" fill="none" stroke="#000" stroke-width="1.4"/></g>
<g transform="translate(0,353.23)"><polyline points="5.2,65.7 10.8,63.1 16.5,65.7" fill="none" stroke="#000" stroke-width="1.4"/><rect x="4.9" y="70" width="13" height="1.6" fill="#000"/><rect x="5" y="75" width="10.2" height="2.8" fill="#000"/><path fill-rule="evenodd" fill="#000" d="M7.4,81a3.8,4.6 0 1,0 7.6,0a3.8,4.6 0 1,0 -7.6,0ZM9.35,80.4a1.9,1.9 0 1,0 3.8,0a1.9,1.9 0 1,0 -3.8,0Z"/><polyline points="2.9,75.6 0.6,78.1 2.9,80.6" fill="none" stroke="#000" stroke-width="1.2"/><circle cx="10.3" cy="92.4" r="0.95" fill="#000"/><polyline points="2.9,98.2 0.6,100.5 2.9,102.8" fill="none" stroke="#000" stroke-width="1.2"/><rect x="5" y="100.2" width="2.1" height="2.9" fill="#000"/><path d="M8.2,101.6H14.6Q16.3,101.6 16.4,104.4" fill="none" stroke="#000" stroke-width="2.9"/><rect x="5" y="106.7" width="13.1" height="1.6" fill="#000"/><polyline points="5.2,112.1 10.8,114.8 16.5,112.1" fill="none" stroke="#000" stroke-width="1.4"/></g>
</svg></body></html>
